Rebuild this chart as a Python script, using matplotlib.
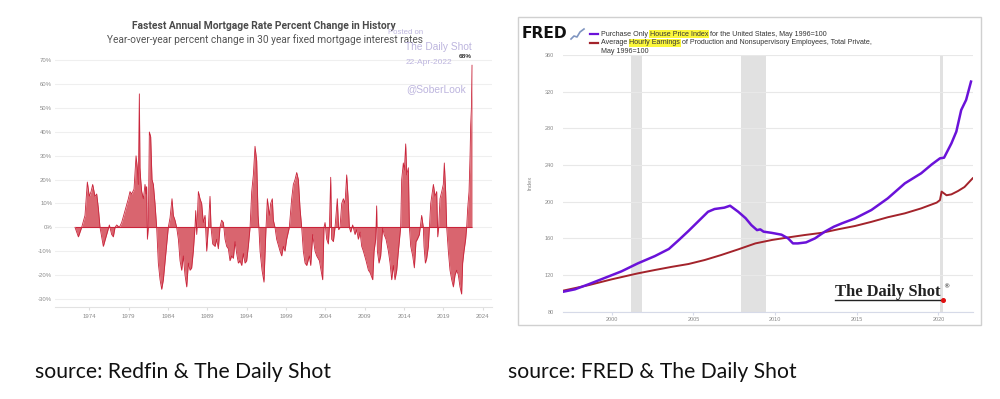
import matplotlib
matplotlib.use('Agg')
import matplotlib.pyplot as plt
from matplotlib.patches import Rectangle
from matplotlib.lines import Line2D

# ---------------- data ----------------
mort_years = [1972.18, 1972.61, 1973.03, 1973.45, 1973.75, 1974.0, 1974.22, 1974.43, 1974.72, 1974.94,
              1975.15, 1975.36, 1975.78, 1976.12, 1976.55, 1976.84, 1977.05, 1977.27, 1977.48, 1977.82,
              1978.11, 1978.54, 1978.96, 1979.17, 1979.38, 1979.68, 1979.94, 1980.1, 1980.23, 1980.36,
              1980.44, 1980.53, 1980.66, 1980.87, 1981.08, 1981.21, 1981.29, 1981.38, 1981.5, 1981.63,
              1981.8, 1981.97, 1982.14, 1982.35, 1982.56, 1982.77, 1982.99, 1983.2, 1983.41, 1983.75,
              1984.04, 1984.26, 1984.51, 1984.68, 1984.89, 1985.1, 1985.32, 1985.53, 1985.74, 1985.95,
              1986.16, 1986.38, 1986.59, 1986.8, 1987.01, 1987.22, 1987.43, 1987.52, 1987.65, 1987.86,
              1988.07, 1988.28, 1988.49, 1988.71, 1988.92, 1989.13, 1989.34, 1989.47, 1989.68, 1989.98,
              1990.19, 1990.4, 1990.61, 1990.82, 1991.04, 1991.25, 1991.46, 1991.67, 1991.88, 1992.09,
              1992.31, 1992.52, 1992.73, 1992.94, 1993.15, 1993.37, 1993.58, 1993.79, 1994.0, 1994.21,
              1994.43, 1994.64, 1994.85, 1995.06, 1995.27, 1995.45, 1995.55, 1995.7, 1995.95, 1996.2,
              1996.46, 1996.63, 1996.88, 1997.05, 1997.26, 1997.39, 1997.6, 1997.81, 1998.24, 1998.45,
              1998.66, 1998.87, 1999.08, 1999.42, 1999.72, 1999.93, 2000.14, 2000.36, 2000.57, 2000.78,
              2000.99, 2001.2, 2001.42, 2001.63, 2001.97, 2002.14, 2002.39, 2002.47, 2002.69, 2002.9,
              2003.24, 2003.45, 2003.66, 2003.83, 2003.96, 2004.17, 2004.38, 2004.51, 2004.68, 2004.8,
              2005.02, 2005.23, 2005.52, 2005.69, 2005.86, 2006.08, 2006.29, 2006.5, 2006.71, 2006.88,
              2007.05, 2007.22, 2007.47, 2007.77, 2007.98, 2008.19, 2008.41, 2008.62, 2008.83, 2009.17,
              2009.47, 2009.68, 2010.02, 2010.19, 2010.4, 2010.52, 2010.61, 2010.82, 2011.03, 2011.29,
              2011.46, 2011.71, 2012.01, 2012.22, 2012.43, 2012.64, 2012.85, 2013.07, 2013.28, 2013.57,
              2013.7, 2013.91, 2014.04, 2014.21, 2014.34, 2014.55, 2014.68, 2014.85, 2015.1, 2015.31,
              2015.52, 2015.69, 2015.95, 2016.24, 2016.45, 2016.54, 2016.71, 2016.88, 2017.09, 2017.22,
              2017.39, 2017.6, 2017.73, 2017.94, 2018.15, 2018.28, 2018.4, 2018.57, 2018.79, 2018.99,
              2019.12, 2019.29, 2019.42, 2019.63, 2019.84, 2020.06, 2020.27, 2020.48, 2020.69, 2020.9,
              2021.11, 2021.32, 2021.45, 2021.62, 2021.83, 2021.96, 2022.09, 2022.26, 2022.39, 2022.47,
              2022.56, 2022.64]
mort_pct = [0, -4, 0, 5, 19, 13, 15, 18, 13, 14,
            8, 0, -8, -4, 1, -3, -4, 0, 1, 0,
            2, 7, 12, 15, 14, 16, 30, 25, 18, 56,
            25, 20, 15, 12, 18, 14, 17, -5, 0, 40,
            38, 20, 18, 10, 0, -15, -22, -26, -22, -10,
            0, 4, 12, 5, 3, 0, -5, -14, -18, -12,
            -20, -25, -15, -18, -17, -10, 0, 7, -3, 15,
            12, 10, 2, 5, -10, 0, 13, 0, -7, -8,
            -5, -9, 0, 3, 2, -5, -8, -9, -14, -12,
            -13, -6, -11, -15, -14, -16, -11, -15, -14, -8,
            0, 15, 22, 34, 28, 5, 0, -10, -18, -23,
            0, 12, 5, 10, 12, 3, 0, -5, -10, -12,
            -8, -10, -5, 0, 12, 18, 20, 23, 20, 8,
            0, -10, -15, -16, -12, -16, -3, -5, -10, -12,
            -14, -18, -22, 0, 2, -5, -7, 0, 21, -5,
            -6, 0, 12, -1, 0, 10, 12, 10, 22, 13,
            0, -2, 1, -3, -1, -5, -2, -8, -10, -14,
            -18, -19, -22, -10, -5, 9, -10, -15, -12, 0,
            -3, -5, -10, -15, -22, -16, -22, -18, -10, 0,
            20, 27, 24, 35, 22, 25, 0, -8, -12, -17,
            -6, -5, -3, 5, 0, -8, -15, -13, -8, 0,
            10, 15, 18, 13, 15, -4, 0, 12, 15, 18,
            27, 15, 0, -10, -18, -22, -25, -20, -18, -20,
            -25, -28, -15, -10, -5, 0, 8, 15, 30, 43,
            50, 68]
mort_yticks = [-30, -20, -10, 0, 10, 20, 30, 40, 50, 60, 70]
mort_xticks = [1974, 1979, 1984, 1989, 1994, 1999, 2004, 2009, 2014, 2019, 2024]

hpi_years = [1997.04, 1997.75, 1998.6, 1999.6, 2000.6, 2001.6, 2002.65, 2003.5, 2004.1, 2004.7,
             2005.3, 2005.9, 2006.3, 2006.9, 2007.25, 2007.75, 2008.2, 2008.55, 2008.9, 2009.1,
             2009.3, 2009.8, 2010.4, 2010.8, 2011.1, 2011.4, 2011.9, 2012.45, 2013.05, 2013.6,
             2014.1, 2014.9, 2015.9, 2016.9, 2017.95, 2018.95, 2019.6, 2020.1, 2020.35, 2020.8,
             2021.1, 2021.4, 2021.7, 2022.0]
hpi_vals = [101.8, 104.4, 110, 117, 124, 132.7, 140.7, 148.4, 158, 168,
            178.5, 189, 192, 193.5, 195.6, 189, 182, 174.5, 169, 169.8,
            167.3, 166, 164, 160, 154.5, 154.5, 155.6, 160, 167.3, 172.7,
            176.4, 181.8, 190.9, 203.6, 220, 231, 240.7, 247.3, 248, 263.6,
            276.4, 300, 311, 331]
wage_years = [1997.04, 1998.6, 2000.0, 2001.6, 2002.65, 2003.7, 2004.7, 2005.7, 2006.7, 2007.75,
              2008.8, 2009.8, 2010.8, 2011.8, 2012.85, 2013.9, 2014.9, 2015.9, 2016.9, 2017.95,
              2018.95, 2019.9, 2020.1, 2020.2, 2020.5, 2020.8, 2021.2, 2021.6, 2022.1]
wage_vals = [103, 109, 115.3, 121.8, 125.5, 129, 132, 136.4, 141.8, 148,
             154.5, 158.2, 161, 163.6, 166, 170, 173.5, 178, 183, 187.3,
             192.7, 199, 201.8, 211, 207, 208, 211.6, 216, 225.5]
recession_starts = [2001.17, 2007.92, 2020.08]
recession_ends = [2001.83, 2009.42, 2020.3]
fred_yticks = [80, 120, 160, 200, 240, 280, 320, 360]
fred_xticks = [2000, 2005, 2010, 2015, 2020]

# ---------------- figure ----------------
W, H = 1000, 399
fig = plt.figure(figsize=(10, 3.99), dpi=100)
fig.patch.set_facecolor('white')
renderer = fig.canvas.get_renderer()


def fx(x):
    return x / W


def fy(y):
    return 1 - y / H


def add_ax(x0, y0, x1, y1):
    return fig.add_axes([fx(x0), fy(y1), (x1 - x0) / W, (y1 - y0) / H])


def fit_text(x0, x1, y, s, **kw):
    t = fig.text(fx(x0), fy(y), s, va='center', ha='left', **kw)
    w = t.get_window_extent(renderer).width
    t.set_fontsize(t.get_fontsize() * (x1 - x0) / w)
    return t


SANS = ['Liberation Sans', 'DejaVu Sans']
NARROW = ['Liberation Sans Narrow', 'Roboto', 'DejaVu Sans']

# ---------------- left chart ----------------
ax = add_ax(55, 55, 492, 306.7)
ax.set_xlim(1969.64, 2025.18)
ax.set_ylim(-33.3, 72.3)
ax.fill_between(mort_years, mort_pct, 0, color='#d9656f', lw=0, zorder=2)
ax.plot(mort_years, mort_pct, color='#c9243a', lw=0.6, zorder=3)
ax.hlines(0, mort_years[0], mort_years[-1], color='#c9243a', lw=0.8, zorder=3)
ax.set_yticks(mort_yticks)
ax.set_yticklabels([f'{v}%' for v in mort_yticks])
ax.set_xticks(mort_xticks)
ax.set_xticklabels([str(v) for v in mort_xticks])
ax.grid(axis='y', color='#efefef', lw=0.8, zorder=0)
for s in ['top', 'right', 'left']:
    ax.spines[s].set_visible(False)
ax.spines['bottom'].set_color('#e2e2e2')
ax.tick_params(axis='y', length=0, pad=2, labelsize=4.3, labelcolor='#8a8a8a')
ax.tick_params(axis='x', length=2, color='#dddddd', pad=3, labelsize=4.3, labelcolor='#8a8a8a')
for lab in ax.get_xticklabels() + ax.get_yticklabels():
    lab.set_family(SANS)

fit_text(132, 397, 25.7, 'Fastest Annual Mortgage Rate Percent Change in History',
         family=NARROW, weight='bold', color='#4a4a4a')
fit_text(107, 422, 39.5, 'Year-over-year percent change in 30 year fixed mortgage interest rates',
         family=NARROW, color='#555555')
wm = '#bdb5de'
fit_text(388, 423, 32.7, 'Posted on', family=SANS, color=wm)
fit_text(405, 472, 46.7, 'The Daily Shot', family=SANS, color=wm)
fit_text(406, 453, 63, '22-Apr-2022', family=SANS, color=wm)
fit_text(406, 466, 89, '@SoberLook', family=SANS, color=wm)
fit_text(459, 472, 57, '68%', family=SANS, weight='bold', color='#333333')

# ---------------- right chart ----------------
fig.patches.append(Rectangle((fx(518), fy(325)), (981 - 518) / W, (325 - 17) / H,
                             transform=fig.transFigure, facecolor='none',
                             edgecolor='#d0d0d0', lw=1))
ax2 = add_ax(563.3, 55, 973.3, 311.7)
ax2.set_xlim(1997.04, 2022.14)
ax2.set_ylim(80, 360)
for a, b in zip(recession_starts, recession_ends):
    ax2.axvspan(a, b, color='#e1e1e1', lw=0, zorder=1)
ax2.plot(wage_years, wage_vals, color='#a3232b', lw=1.4, zorder=3)
ax2.plot(hpi_years, hpi_vals, color='#6a12d9', lw=1.8, zorder=4)
ax2.set_yticks(fred_yticks)
ax2.set_yticklabels([str(v) for v in fred_yticks])
ax2.set_xticks(fred_xticks)
ax2.set_xticklabels([str(v) for v in fred_xticks])
ax2.grid(axis='y', color='#e8e8e8', lw=0.8, zorder=0)
for s in ['top', 'right', 'left']:
    ax2.spines[s].set_visible(False)
ax2.spines['bottom'].set_color('#d6dae8')
ax2.tick_params(axis='y', length=0, pad=6.5, labelsize=4.0, labelcolor='#8a8a8a')
ax2.tick_params(axis='x', length=2, color='#d6dae8', pad=2, labelsize=4.0, labelcolor='#8a8a8a')
for lab in ax2.get_xticklabels() + ax2.get_yticklabels():
    lab.set_family(SANS)
fig.text(fx(530), fy(183), 'Index', rotation=90, ha='center', va='center',
         fontsize=4.2, color='#8a8a8a', family=SANS)

# FRED header
fit_text(522, 568, 33, 'FRED', family=['DejaVu Sans'], weight='heavy', color='#111111')
icon_x = [571, 574, 577, 580, 584]
icon_y = [39, 36, 37, 32, 29]
fig.lines.append(Line2D([fx(v) for v in icon_x], [fy(v) for v in icon_y],
                        transform=fig.transFigure, color='#7f95c0', lw=1.2))
fig.lines.append(Line2D([fx(590), fx(598)], [fy(34), fy(34)], transform=fig.transFigure,
                        color='#6a12d9', lw=1.6))
fig.lines.append(Line2D([fx(590), fx(598)], [fy(42.5), fy(42.5)], transform=fig.transFigure,
                        color='#a3232b', lw=1.6))

line1 = [('Purchase Only ', False), ('House Price Index', True),
         (' for the United States, May 1996=100', False)]
line2 = [('Average ', False), ('Hourly Earnings', True),
         (' of Production and Nonsupervisory Employees, Total Private,', False)]

probe = fig.text(0, 0, ''.join(p for p, _ in line1), fontsize=5, family=SANS)
leg_size = 5 * (830 - 601) / probe.get_window_extent(renderer).width
probe.remove()


def text_width(s, size):
    t = fig.text(0, 0, 'x' + s + 'x', fontsize=size, family=SANS)
    w1 = t.get_window_extent(renderer).width
    t.set_text('xx')
    w2 = t.get_window_extent(renderer).width
    t.remove()
    return w1 - w2


def draw_pieces(x, y, parts, size):
    cur = x
    for s, hl in parts:
        t = fig.text(fx(cur), fy(y), s, fontsize=size, family=SANS, color='#333333',
                     va='center', ha='left', zorder=5)
        if hl:
            t.set_bbox(dict(facecolor='#fbf73a', edgecolor='none', pad=0.4))
        cur += text_width(s, size)


draw_pieces(601, 34, line1, leg_size)
draw_pieces(601, 42.7, line2, leg_size)
draw_pieces(601, 51.2, [('May 1996=100', False)], leg_size)

# The Daily Shot logo
fit_text(835, 941, 292, 'The Daily Shot', family=['Liberation Serif', 'DejaVu Serif'],
         weight='bold', color='#222222')
fig.lines.append(Line2D([fx(835), fx(942)], [fy(299.5), fy(299.5)], transform=fig.transFigure,
                        color='#222222', lw=1.0))
fig.text(fx(943), fy(287), '\u00ae', fontsize=4.5, color='#222222', ha='left', va='center')
fig.lines.append(Line2D([fx(942.5)], [fy(300)], transform=fig.transFigure, marker='o',
                        markersize=2.6, color='#e01010', lw=0))

# ---------------- source notes ----------------
src_font = ['Lato', 'Open Sans', 'DejaVu Sans']
t1 = fit_text(35, 330, 372, 'source: Redfin & The Daily Shot', family=src_font, color='#111111')
fig.text(fx(508), fy(372), 'source: FRED & The Daily Shot', family=src_font, color='#111111',
         fontsize=t1.get_fontsize(), va='center', ha='left')

fig.savefig('out.png', dpi=100, facecolor='white')
